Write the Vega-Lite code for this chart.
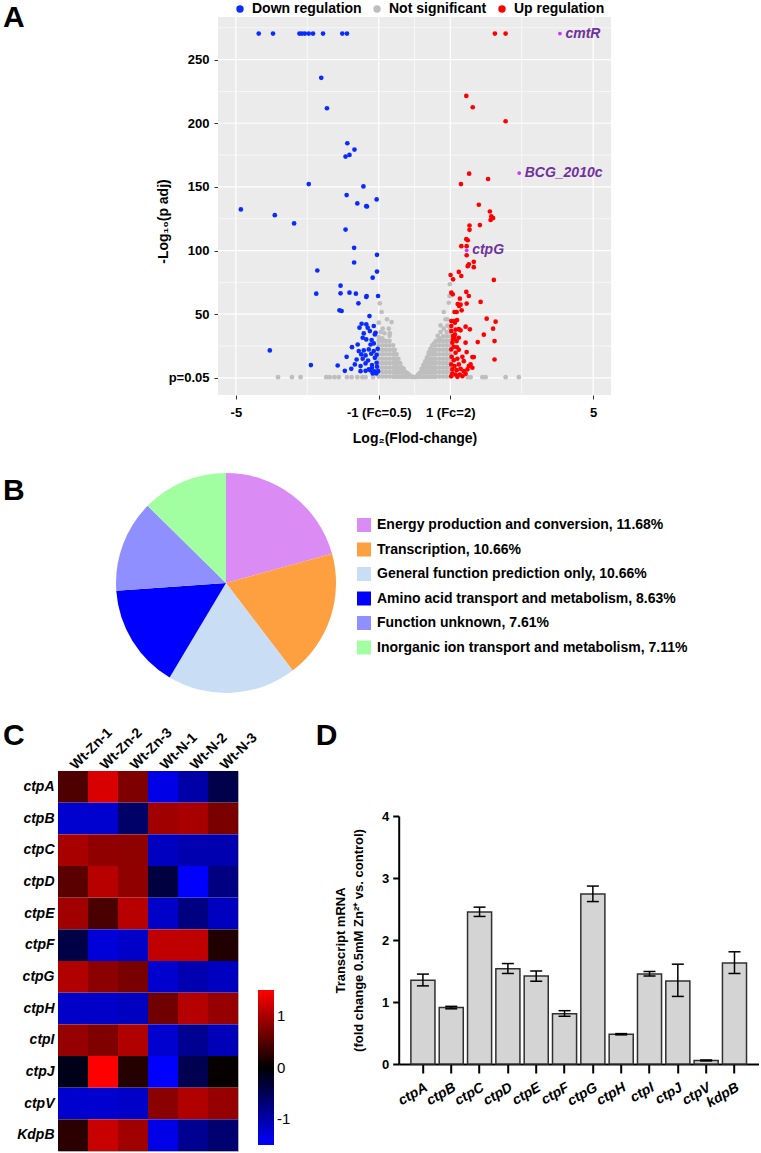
{
  "$schema": "https://vega.github.io/schema/vega-lite/v6.json",
  "padding": {"left": 2, "top": 2, "right": 0, "bottom": 0},
  "autosize": {"type": "pad"},
  "config": {
    "font": "Liberation Sans",
    "view": {"stroke": null},
    "title": {"color": "black", "fontSize": 30, "fontWeight": "bold", "anchor": "start", "frame": "group", "offset": 0},
    "axis": {"labelColor": "black", "titleColor": "black"},
    "legend": {"labelColor": "black"}
  },
  "datasets": {
    "bg": [{"x": -5.5, "x2": 5.5, "y": -13.5, "y2": 283.5}],
    "vmajor": [{"x": -5}, {"x": -1}, {"x": 1}, {"x": 5}],
    "vminor": [{"x": -3}, {"x": 0}, {"x": 3}],
    "hmajor": [{"y": 0}, {"y": 50}, {"y": 100}, {"y": 150}, {"y": 200}, {"y": 250}],
    "hminor": [{"y": 25}, {"y": 75}, {"y": 125}, {"y": 175}, {"y": 225}, {"y": 275}],
    "lab": [
      {"x": 4.07, "y": 270.5, "t": "cmtR"},
      {"x": 2.93, "y": 160.9, "t": "BCG_2010c"},
      {"x": 1.46, "y": 100.2, "t": "ctpG"}
    ],
    "volcano": [
      {"x":-3.82,"y":0.5,"g":"N"},{"x":-3.43,"y":0.5,"g":"N"},{"x":-3.19,"y":0.5,"g":"N"},{"x":-2.47,"y":0.5,"g":"N"},{"x":-2.37,"y":0.5,"g":"N"},{"x":-2.24,"y":0.5,"g":"N"},{"x":-2.12,"y":0.5,"g":"N"},{"x":-1.89,"y":0.5,"g":"N"},{"x":-1.76,"y":0.5,"g":"N"},{"x":-1.6,"y":0.5,"g":"N"},{"x":-1.46,"y":0.5,"g":"N"},{"x":-1.37,"y":0.5,"g":"N"},{"x":-1.16,"y":0.5,"g":"N"},{"x":1.49,"y":0.5,"g":"N"},{"x":1.57,"y":0.5,"g":"N"},{"x":1.9,"y":0.5,"g":"N"},{"x":1.99,"y":0.5,"g":"N"},{"x":2.55,"y":0.5,"g":"N"},{"x":2.92,"y":0.5,"g":"N"},
      {"x":-1,"y":1,"g":"N"},{"x":-1,"y":4.5,"g":"N"},{"x":-1,"y":8,"g":"N"},{"x":-1,"y":11.5,"g":"N"},{"x":-1,"y":15,"g":"N"},{"x":-1,"y":18.5,"g":"N"},{"x":-1,"y":22,"g":"N"},{"x":-1,"y":25.5,"g":"N"},{"x":-1,"y":29,"g":"N"},{"x":-1,"y":32,"g":"N"},
      {"x":-0.9,"y":1,"g":"N"},{"x":-0.9,"y":4.5,"g":"N"},{"x":-0.9,"y":8,"g":"N"},{"x":-0.9,"y":11.5,"g":"N"},{"x":-0.9,"y":15,"g":"N"},{"x":-0.9,"y":18.5,"g":"N"},{"x":-0.9,"y":22,"g":"N"},{"x":-0.9,"y":25.5,"g":"N"},{"x":-0.9,"y":29,"g":"N"},{"x":-0.9,"y":31,"g":"N"},
      {"x":-0.8,"y":1,"g":"N"},{"x":-0.8,"y":4.5,"g":"N"},{"x":-0.8,"y":8,"g":"N"},{"x":-0.8,"y":11.5,"g":"N"},{"x":-0.8,"y":15,"g":"N"},{"x":-0.8,"y":18.5,"g":"N"},{"x":-0.8,"y":22,"g":"N"},{"x":-0.8,"y":25.5,"g":"N"},{"x":-0.8,"y":29,"g":"N"},
      {"x":-0.7,"y":1,"g":"N"},{"x":-0.7,"y":4.5,"g":"N"},{"x":-0.7,"y":8,"g":"N"},{"x":-0.7,"y":11.5,"g":"N"},{"x":-0.7,"y":15,"g":"N"},{"x":-0.7,"y":18.5,"g":"N"},{"x":-0.7,"y":22,"g":"N"},{"x":-0.7,"y":25.5,"g":"N"},{"x":-0.7,"y":29,"g":"N"},{"x":-0.7,"y":33,"g":"N"},
      {"x":-0.6,"y":1,"g":"N"},{"x":-0.6,"y":4.5,"g":"N"},{"x":-0.6,"y":8,"g":"N"},{"x":-0.6,"y":11.5,"g":"N"},{"x":-0.6,"y":15,"g":"N"},{"x":-0.6,"y":18.5,"g":"N"},{"x":-0.6,"y":22,"g":"N"},{"x":-0.6,"y":25.5,"g":"N"},
      {"x":-0.55,"y":1,"g":"N"},{"x":-0.55,"y":4.5,"g":"N"},{"x":-0.55,"y":8,"g":"N"},{"x":-0.55,"y":11.5,"g":"N"},{"x":-0.55,"y":15,"g":"N"},{"x":-0.55,"y":18.5,"g":"N"},{"x":-0.55,"y":22,"g":"N"},
      {"x":-0.5,"y":1,"g":"N"},{"x":-0.5,"y":4.5,"g":"N"},{"x":-0.5,"y":8,"g":"N"},{"x":-0.5,"y":11.5,"g":"N"},{"x":-0.5,"y":15,"g":"N"},{"x":-0.5,"y":18.5,"g":"N"},
      {"x":-0.45,"y":1,"g":"N"},{"x":-0.45,"y":4.5,"g":"N"},{"x":-0.45,"y":8,"g":"N"},{"x":-0.45,"y":11.5,"g":"N"},{"x":-0.45,"y":15,"g":"N"},
      {"x":-0.4,"y":1,"g":"N"},{"x":-0.4,"y":4.5,"g":"N"},{"x":-0.4,"y":8,"g":"N"},{"x":-0.4,"y":11.5,"g":"N"},
      {"x":-0.35,"y":1,"g":"N"},{"x":-0.35,"y":4.5,"g":"N"},{"x":-0.35,"y":8,"g":"N"},
      {"x":-0.3,"y":1,"g":"N"},{"x":-0.3,"y":4.5,"g":"N"},{"x":-0.3,"y":7,"g":"N"},
      {"x":-0.25,"y":1,"g":"N"},{"x":-0.25,"y":4.5,"g":"N"},
      {"x":-0.2,"y":1,"g":"N"},{"x":-0.2,"y":3.5,"g":"N"},
      {"x":-0.15,"y":1,"g":"N"},{"x":-0.15,"y":2.5,"g":"N"},
      {"x":-0.1,"y":1,"g":"N"},{"x":-0.05,"y":0.8,"g":"N"},{"x":0,"y":0.6,"g":"N"},{"x":0.05,"y":0.8,"g":"N"},
      {"x":0.1,"y":1,"g":"N"},{"x":0.1,"y":2.5,"g":"N"},
      {"x":0.15,"y":1,"g":"N"},{"x":0.15,"y":4,"g":"N"},
      {"x":0.2,"y":1,"g":"N"},{"x":0.2,"y":4.5,"g":"N"},{"x":0.2,"y":7,"g":"N"},
      {"x":0.25,"y":1,"g":"N"},{"x":0.25,"y":4.5,"g":"N"},{"x":0.25,"y":8,"g":"N"},{"x":0.25,"y":10,"g":"N"},
      {"x":0.3,"y":1,"g":"N"},{"x":0.3,"y":4.5,"g":"N"},{"x":0.3,"y":8,"g":"N"},{"x":0.3,"y":11.5,"g":"N"},{"x":0.3,"y":13,"g":"N"},
      {"x":0.35,"y":1,"g":"N"},{"x":0.35,"y":4.5,"g":"N"},{"x":0.35,"y":8,"g":"N"},{"x":0.35,"y":11.5,"g":"N"},{"x":0.35,"y":15,"g":"N"},{"x":0.35,"y":16,"g":"N"},
      {"x":0.4,"y":1,"g":"N"},{"x":0.4,"y":4.5,"g":"N"},{"x":0.4,"y":8,"g":"N"},{"x":0.4,"y":11.5,"g":"N"},{"x":0.4,"y":15,"g":"N"},{"x":0.4,"y":18.5,"g":"N"},{"x":0.4,"y":20,"g":"N"},
      {"x":0.45,"y":1,"g":"N"},{"x":0.45,"y":4.5,"g":"N"},{"x":0.45,"y":8,"g":"N"},{"x":0.45,"y":11.5,"g":"N"},{"x":0.45,"y":15,"g":"N"},{"x":0.45,"y":18.5,"g":"N"},{"x":0.45,"y":22,"g":"N"},{"x":0.45,"y":23,"g":"N"},
      {"x":0.5,"y":1,"g":"N"},{"x":0.5,"y":4.5,"g":"N"},{"x":0.5,"y":8,"g":"N"},{"x":0.5,"y":11.5,"g":"N"},{"x":0.5,"y":15,"g":"N"},{"x":0.5,"y":18.5,"g":"N"},{"x":0.5,"y":22,"g":"N"},{"x":0.5,"y":25.5,"g":"N"},
      {"x":0.55,"y":1,"g":"N"},{"x":0.55,"y":4.5,"g":"N"},{"x":0.55,"y":8,"g":"N"},{"x":0.55,"y":11.5,"g":"N"},{"x":0.55,"y":15,"g":"N"},{"x":0.55,"y":18.5,"g":"N"},{"x":0.55,"y":22,"g":"N"},{"x":0.55,"y":25.5,"g":"N"},{"x":0.55,"y":27,"g":"N"},
      {"x":0.6,"y":1,"g":"N"},{"x":0.6,"y":4.5,"g":"N"},{"x":0.6,"y":8,"g":"N"},{"x":0.6,"y":11.5,"g":"N"},{"x":0.6,"y":15,"g":"N"},{"x":0.6,"y":18.5,"g":"N"},{"x":0.6,"y":22,"g":"N"},{"x":0.6,"y":25.5,"g":"N"},{"x":0.6,"y":29,"g":"N"},
      {"x":0.7,"y":1,"g":"N"},{"x":0.7,"y":4.5,"g":"N"},{"x":0.7,"y":8,"g":"N"},{"x":0.7,"y":11.5,"g":"N"},{"x":0.7,"y":15,"g":"N"},{"x":0.7,"y":18.5,"g":"N"},{"x":0.7,"y":22,"g":"N"},{"x":0.7,"y":25.5,"g":"N"},{"x":0.7,"y":29,"g":"N"},{"x":0.7,"y":31,"g":"N"},
      {"x":0.8,"y":1,"g":"N"},{"x":0.8,"y":4.5,"g":"N"},{"x":0.8,"y":8,"g":"N"},{"x":0.8,"y":11.5,"g":"N"},{"x":0.8,"y":15,"g":"N"},{"x":0.8,"y":18.5,"g":"N"},{"x":0.8,"y":22,"g":"N"},{"x":0.8,"y":25.5,"g":"N"},{"x":0.8,"y":29,"g":"N"},{"x":0.8,"y":32.5,"g":"N"},
      {"x":0.9,"y":1,"g":"N"},{"x":0.9,"y":4.5,"g":"N"},{"x":0.9,"y":8,"g":"N"},{"x":0.9,"y":11.5,"g":"N"},{"x":0.9,"y":15,"g":"N"},{"x":0.9,"y":18.5,"g":"N"},{"x":0.9,"y":22,"g":"N"},{"x":0.9,"y":25.5,"g":"N"},{"x":0.9,"y":29,"g":"N"},{"x":0.9,"y":32.5,"g":"N"},{"x":0.9,"y":36,"g":"N"},
      {"x":1,"y":1,"g":"N"},{"x":1,"y":4.5,"g":"N"},{"x":1,"y":8,"g":"N"},{"x":1,"y":11.5,"g":"N"},{"x":1,"y":15,"g":"N"},{"x":1,"y":18.5,"g":"N"},{"x":1,"y":22,"g":"N"},{"x":1,"y":25.5,"g":"N"},{"x":1,"y":29,"g":"N"},{"x":1,"y":32.5,"g":"N"},{"x":1,"y":36,"g":"N"},{"x":1,"y":39,"g":"N"},
      {"x":-0.97,"y":58.5,"g":"N"},{"x":-0.92,"y":51.7,"g":"N"},{"x":-1,"y":43.3,"g":"N"},{"x":-0.77,"y":46,"g":"N"},{"x":-0.64,"y":43.8,"g":"N"},{"x":-0.89,"y":38.6,"g":"N"},{"x":-0.72,"y":38.6,"g":"N"},{"x":-0.69,"y":35,"g":"N"},{"x":-0.84,"y":35,"g":"N"},{"x":-0.95,"y":36,"g":"N"},
      {"x":0.99,"y":73.5,"g":"N"},{"x":0.98,"y":64.3,"g":"N"},{"x":0.96,"y":59,"g":"N"},{"x":0.82,"y":51.7,"g":"N"},{"x":0.87,"y":46,"g":"N"},{"x":0.92,"y":46,"g":"N"},{"x":0.73,"y":41.2,"g":"N"},{"x":0.82,"y":38.6,"g":"N"},{"x":0.92,"y":41,"g":"N"},{"x":0.73,"y":36,"g":"N"},{"x":0.65,"y":33,"g":"N"},
      {"x":-4.36,"y":270.5,"g":"D"},{"x":-3.96,"y":270.5,"g":"D"},{"x":-3.22,"y":270.5,"g":"D"},{"x":-3.15,"y":270.5,"g":"D"},{"x":-3.07,"y":270.5,"g":"D"},{"x":-2.96,"y":270.5,"g":"D"},{"x":-2.84,"y":270.5,"g":"D"},{"x":-2.56,"y":270.5,"g":"D"},{"x":-2.02,"y":270.5,"g":"D"},{"x":-1.89,"y":270.5,"g":"D"},
      {"x":-2.61,"y":235.7,"g":"D"},{"x":-2.45,"y":211.8,"g":"D"},{"x":-1.88,"y":184.3,"g":"D"},{"x":-1.68,"y":179.3,"g":"D"},{"x":-1.82,"y":175.1,"g":"D"},{"x":-1.93,"y":173.8,"g":"D"},{"x":-2.96,"y":152.2,"g":"D"},{"x":-1.43,"y":150.4,"g":"D"},{"x":-1.9,"y":143.6,"g":"D"},{"x":-1.06,"y":140.2,"g":"D"},{"x":-1.6,"y":137,"g":"D"},{"x":-1.35,"y":134.9,"g":"D"},{"x":-1.33,"y":134.6,"g":"D"},{"x":-4.86,"y":132.3,"g":"D"},{"x":-3.91,"y":127.8,"g":"D"},{"x":-3.37,"y":121.3,"g":"D"},{"x":-1.93,"y":116.5,"g":"D"},{"x":-1.69,"y":102.1,"g":"D"},{"x":-1.05,"y":96.6,"g":"D"},{"x":-1.69,"y":90.6,"g":"D"},{"x":-2.72,"y":84.3,"g":"D"},{"x":-1.05,"y":83.5,"g":"D"},{"x":-1.17,"y":78.7,"g":"D"},{"x":-2.07,"y":72.4,"g":"D"},{"x":-2.75,"y":66.1,"g":"D"},{"x":-2.07,"y":66.4,"g":"D"},{"x":-1.82,"y":66.9,"g":"D"},{"x":-1.64,"y":66.1,"g":"D"},{"x":-1.35,"y":63.5,"g":"D"},{"x":-1.34,"y":64.3,"g":"D"},{"x":-1.02,"y":64.3,"g":"D"},{"x":-1.57,"y":58.5,"g":"D"},{"x":-2.1,"y":53,"g":"D"},{"x":-2.04,"y":52.5,"g":"D"},{"x":-1.26,"y":48.5,"g":"D"},{"x":-4.05,"y":21.5,"g":"D"},{"x":-2.9,"y":10,"g":"D"},{"x":-2.15,"y":9.7,"g":"D"},{"x":-1.95,"y":5.5,"g":"D"},
      {"x":-1.48,"y":42.5,"g":"D"},{"x":-1.35,"y":42,"g":"D"},{"x":-1.54,"y":39.4,"g":"D"},{"x":-1.31,"y":39.4,"g":"D"},{"x":-1.14,"y":40.7,"g":"D"},{"x":-1.09,"y":35.4,"g":"D"},{"x":-1.25,"y":36.7,"g":"D"},{"x":-1.42,"y":34.9,"g":"D"},{"x":-1.11,"y":34.1,"g":"D"},{"x":-1.45,"y":31.5,"g":"D"},{"x":-1.35,"y":30.2,"g":"D"},{"x":-1.2,"y":29.7,"g":"D"},{"x":-1.59,"y":26.2,"g":"D"},{"x":-1.75,"y":24.1,"g":"D"},{"x":-1.23,"y":26.2,"g":"D"},{"x":-1.14,"y":27,"g":"D"},{"x":-1.56,"y":21,"g":"D"},{"x":-1.42,"y":21.5,"g":"D"},{"x":-1.28,"y":22.3,"g":"D"},{"x":-1.14,"y":21,"g":"D"},{"x":-1.03,"y":22.8,"g":"D"},{"x":-1.49,"y":18.4,"g":"D"},{"x":-1.37,"y":17.6,"g":"D"},{"x":-1.21,"y":18.9,"g":"D"},{"x":-1.06,"y":18.1,"g":"D"},{"x":-1.9,"y":16.5,"g":"D"},{"x":-1.62,"y":14.4,"g":"D"},{"x":-1.45,"y":15,"g":"D"},{"x":-1.3,"y":13.6,"g":"D"},{"x":-1.11,"y":15.7,"g":"D"},{"x":-1.67,"y":10.5,"g":"D"},{"x":-1.51,"y":9.2,"g":"D"},{"x":-1.37,"y":11.3,"g":"D"},{"x":-1.19,"y":10,"g":"D"},{"x":-1.06,"y":11.8,"g":"D"},{"x":-1.77,"y":7.1,"g":"D"},{"x":-1.51,"y":5.2,"g":"D"},{"x":-1.37,"y":5.5,"g":"D"},{"x":-1.23,"y":5.8,"g":"D"},{"x":-1.12,"y":5,"g":"D"},{"x":-1.02,"y":5.2,"g":"D"},{"x":-1.19,"y":7.9,"g":"D"},{"x":-1.05,"y":8.7,"g":"D"},{"x":-1.07,"y":3.4,"g":"D"},{"x":-1.17,"y":3.4,"g":"D"},{"x":-1.28,"y":6.6,"g":"D"},
      {"x":2.25,"y":270.5,"g":"U"},{"x":2.55,"y":270.5,"g":"U"},{"x":1.45,"y":221.5,"g":"U"},{"x":1.63,"y":212.6,"g":"U"},{"x":2.55,"y":201.6,"g":"U"},{"x":1.53,"y":160.4,"g":"U"},{"x":2.06,"y":156.2,"g":"U"},{"x":1.3,"y":152.2,"g":"U"},{"x":1.8,"y":136,"g":"U"},{"x":2.11,"y":130.7,"g":"U"},{"x":2.15,"y":126.8,"g":"U"},{"x":2.2,"y":125.5,"g":"U"},{"x":2.13,"y":124,"g":"U"},{"x":1.83,"y":120,"g":"U"},{"x":1.54,"y":119.7,"g":"U"},{"x":1.54,"y":116.3,"g":"U"},{"x":1.45,"y":108.9,"g":"U"},{"x":1.49,"y":108.1,"g":"U"},{"x":1.31,"y":103.4,"g":"U"},{"x":1.46,"y":103.4,"g":"U"},{"x":1.46,"y":96.3,"g":"U"},{"x":1.52,"y":89.2,"g":"U"},{"x":1.49,"y":87.7,"g":"U"},{"x":1.66,"y":91.1,"g":"U"},{"x":1.66,"y":86.9,"g":"U"},{"x":2.22,"y":76.9,"g":"U"},{"x":1.01,"y":80.8,"g":"U"},{"x":1.24,"y":83.2,"g":"U"},{"x":1.31,"y":80,"g":"U"},{"x":1.08,"y":77.4,"g":"U"},{"x":1.03,"y":66.9,"g":"U"},{"x":1.07,"y":65.6,"g":"U"},{"x":1.45,"y":67.5,"g":"U"},{"x":1.27,"y":62.2,"g":"U"},{"x":1.52,"y":64.3,"g":"U"},{"x":1.85,"y":59.6,"g":"U"},{"x":1.21,"y":58,"g":"U"},{"x":1.29,"y":57.5,"g":"U"},{"x":1.25,"y":56.5,"g":"U"},{"x":1.46,"y":58.3,"g":"U"},{"x":1.12,"y":51.7,"g":"U"},{"x":1.18,"y":51.7,"g":"U"},{"x":1.32,"y":53,"g":"U"},{"x":2.02,"y":46.5,"g":"U"},{"x":2.27,"y":44.1,"g":"U"},{"x":1.03,"y":44.6,"g":"U"},{"x":1.1,"y":44.6,"g":"U"},{"x":1.19,"y":45.4,"g":"U"},{"x":1.24,"y":38.2,"g":"U"},{"x":1.29,"y":37.3,"g":"U"},{"x":1.15,"y":37.8,"g":"U"},{"x":1.43,"y":40.2,"g":"U"},{"x":1.55,"y":38.1,"g":"U"},{"x":2.2,"y":38.6,"g":"U"},{"x":1.94,"y":33.9,"g":"U"},{"x":1.77,"y":28.1,"g":"U"},{"x":1.43,"y":27.6,"g":"U"},{"x":2.24,"y":28.9,"g":"U"},{"x":1.08,"y":32.8,"g":"U"},{"x":1.12,"y":31.5,"g":"U"},{"x":1.06,"y":27.6,"g":"U"},{"x":1.1,"y":24.4,"g":"U"},{"x":1.19,"y":24,"g":"U"},{"x":1.24,"y":22,"g":"U"},{"x":1.46,"y":20.2,"g":"U"},{"x":1.62,"y":16.3,"g":"U"},{"x":1.66,"y":16.3,"g":"U"},{"x":2.24,"y":14.4,"g":"U"},
      {"x":1.04,"y":16.5,"g":"U"},{"x":1.1,"y":13.9,"g":"U"},{"x":1.2,"y":15,"g":"U"},{"x":1.03,"y":10.5,"g":"U"},{"x":1.12,"y":9.2,"g":"U"},{"x":1.24,"y":10.5,"g":"U"},{"x":1.06,"y":6.6,"g":"U"},{"x":1.18,"y":6,"g":"U"},{"x":1.29,"y":7.1,"g":"U"},{"x":1.38,"y":5.2,"g":"U"},{"x":1.06,"y":3.4,"g":"U"},{"x":1.15,"y":2.6,"g":"U"},{"x":1.27,"y":2.6,"g":"U"},{"x":1.43,"y":3.1,"g":"U"},{"x":1.03,"y":1.3,"g":"U"},{"x":1.2,"y":0.8,"g":"U"},{"x":1.34,"y":1.3,"g":"U"},{"x":1.48,"y":6.6,"g":"U"},{"x":1.57,"y":10.5,"g":"U"},{"x":1.34,"y":16.5,"g":"U"},{"x":1.38,"y":13.1,"g":"U"},{"x":1.52,"y":9.2,"g":"U"},{"x":1.62,"y":7.9,"g":"U"},{"x":1.03,"y":22.3,"g":"U"},{"x":1.15,"y":19.7,"g":"U"},{"x":1.08,"y":30.2,"g":"U"},{"x":1.18,"y":28.9,"g":"U"},{"x":1.03,"y":36.7,"g":"U"},{"x":1.13,"y":34.1,"g":"U"},{"x":1.24,"y":31.5,"g":"U"},{"x":1.03,"y":40.7,"g":"U"},{"x":1.13,"y":43.3,"g":"U"}
    ],
    "pie": [
      {"cat": "Energy production and conversion, 11.68%", "pct": 11.68, "ord": 1},
      {"cat": "Transcription, 10.66%", "pct": 10.66, "ord": 2},
      {"cat": "General function prediction only, 10.66%", "pct": 10.66, "ord": 3},
      {"cat": "Amino acid transport and metabolism, 8.63%", "pct": 8.63, "ord": 4},
      {"cat": "Function unknown, 7.61%", "pct": 7.61, "ord": 5},
      {"cat": "Inorganic ion transport and metabolism, 7.11%", "pct": 7.11, "ord": 6}
    ],
    "heat": [
      {"g":"ctpA","s":"Wt-Zn-1","v":0.46},{"g":"ctpA","s":"Wt-Zn-2","v":1.27},{"g":"ctpA","s":"Wt-Zn-3","v":0.74},{"g":"ctpA","s":"Wt-N-1","v":-1.36},{"g":"ctpA","s":"Wt-N-2","v":-0.99},{"g":"ctpA","s":"Wt-N-3","v":-0.44},
      {"g":"ctpB","s":"Wt-Zn-1","v":-1.22},{"g":"ctpB","s":"Wt-Zn-2","v":-1.22},{"g":"ctpB","s":"Wt-Zn-3","v":-0.62},{"g":"ctpB","s":"Wt-N-1","v":0.94},{"g":"ctpB","s":"Wt-N-2","v":0.99},{"g":"ctpB","s":"Wt-N-3","v":0.72},
      {"g":"ctpC","s":"Wt-Zn-1","v":0.99},{"g":"ctpC","s":"Wt-Zn-2","v":0.85},{"g":"ctpC","s":"Wt-Zn-3","v":0.84},{"g":"ctpC","s":"Wt-N-1","v":-1.13},{"g":"ctpC","s":"Wt-N-2","v":-1.04},{"g":"ctpC","s":"Wt-N-3","v":-1.04},
      {"g":"ctpD","s":"Wt-Zn-1","v":0.53},{"g":"ctpD","s":"Wt-Zn-2","v":1.08},{"g":"ctpD","s":"Wt-Zn-3","v":0.85},{"g":"ctpD","s":"Wt-N-1","v":-0.38},{"g":"ctpD","s":"Wt-N-2","v":-1.5},{"g":"ctpD","s":"Wt-N-3","v":-0.75},
      {"g":"ctpE","s":"Wt-Zn-1","v":0.94},{"g":"ctpE","s":"Wt-Zn-2","v":0.44},{"g":"ctpE","s":"Wt-Zn-3","v":1.08},{"g":"ctpE","s":"Wt-N-1","v":-1.18},{"g":"ctpE","s":"Wt-N-2","v":-0.75},{"g":"ctpE","s":"Wt-N-3","v":-1.13},
      {"g":"ctpF","s":"Wt-Zn-1","v":-0.42},{"g":"ctpF","s":"Wt-Zn-2","v":-1.27},{"g":"ctpF","s":"Wt-Zn-3","v":-1.18},{"g":"ctpF","s":"Wt-N-1","v":1.13},{"g":"ctpF","s":"Wt-N-2","v":1.13},{"g":"ctpF","s":"Wt-N-3","v":0.19},
      {"g":"ctpG","s":"Wt-Zn-1","v":1.04},{"g":"ctpG","s":"Wt-Zn-2","v":0.82},{"g":"ctpG","s":"Wt-Zn-3","v":0.71},{"g":"ctpG","s":"Wt-N-1","v":-1.22},{"g":"ctpG","s":"Wt-N-2","v":-1.04},{"g":"ctpG","s":"Wt-N-3","v":-1.13},
      {"g":"ctpH","s":"Wt-Zn-1","v":-1.18},{"g":"ctpH","s":"Wt-Zn-2","v":-1.18},{"g":"ctpH","s":"Wt-Zn-3","v":-1.13},{"g":"ctpH","s":"Wt-N-1","v":0.66},{"g":"ctpH","s":"Wt-N-2","v":1.06},{"g":"ctpH","s":"Wt-N-3","v":0.89},
      {"g":"ctpI","s":"Wt-Zn-1","v":0.89},{"g":"ctpI","s":"Wt-Zn-2","v":0.75},{"g":"ctpI","s":"Wt-Zn-3","v":1.04},{"g":"ctpI","s":"Wt-N-1","v":-1.22},{"g":"ctpI","s":"Wt-N-2","v":-0.85},{"g":"ctpI","s":"Wt-N-3","v":-1.08},
      {"g":"ctpJ","s":"Wt-Zn-1","v":-0.14},{"g":"ctpJ","s":"Wt-Zn-2","v":1.5},{"g":"ctpJ","s":"Wt-Zn-3","v":0.22},{"g":"ctpJ","s":"Wt-N-1","v":-1.5},{"g":"ctpJ","s":"Wt-N-2","v":-0.47},{"g":"ctpJ","s":"Wt-N-3","v":0.04},
      {"g":"ctpV","s":"Wt-Zn-1","v":-1.22},{"g":"ctpV","s":"Wt-Zn-2","v":-1.22},{"g":"ctpV","s":"Wt-Zn-3","v":-1.18},{"g":"ctpV","s":"Wt-N-1","v":0.82},{"g":"ctpV","s":"Wt-N-2","v":1.04},{"g":"ctpV","s":"Wt-N-3","v":0.89},
      {"g":"KdpB","s":"Wt-Zn-1","v":0.25},{"g":"KdpB","s":"Wt-Zn-2","v":1.18},{"g":"KdpB","s":"Wt-Zn-3","v":0.94},{"g":"KdpB","s":"Wt-N-1","v":-1.36},{"g":"KdpB","s":"Wt-N-2","v":-0.85},{"g":"KdpB","s":"Wt-N-3","v":-0.66}
    ],
    "bars": [
      {"gene":"ctpA","m":1.35,"lo":1.26,"hi":1.45},
      {"gene":"ctpB","m":0.91,"lo":0.89,"hi":0.93},
      {"gene":"ctpC","m":2.45,"lo":2.38,"hi":2.53},
      {"gene":"ctpD","m":1.535,"lo":1.46,"hi":1.62},
      {"gene":"ctpE","m":1.42,"lo":1.335,"hi":1.5},
      {"gene":"ctpF","m":0.81,"lo":0.77,"hi":0.86},
      {"gene":"ctpG","m":2.74,"lo":2.62,"hi":2.87},
      {"gene":"ctpH","m":0.48,"lo":0.47,"hi":0.49},
      {"gene":"ctpI","m":1.45,"lo":1.42,"hi":1.49},
      {"gene":"ctpJ","m":1.34,"lo":1.09,"hi":1.61},
      {"gene":"ctpV","m":0.055,"lo":0.05,"hi":0.065},
      {"gene":"kdpB","m":1.63,"lo":1.46,"hi":1.81}
    ]
  },
  "bounds": "flush",
  "spacing": 78,
  "vconcat": [
    {
      "width": 553,
      "height": 378,
      "title": {"text": "A", "dx": -55, "dy": 35},
      "layer": [
        {
          "data": {"name": "bg"},
          "mark": {"type": "rect", "fill": "#EBEBEB"},
          "encoding": {
            "x": {
              "field": "x", "type": "quantitative",
              "scale": {"domain": [-5.5, 5.5], "nice": false, "zero": false, "range": [160, 553]},
              "axis": {
                "values": [-5, -1, 1, 5],
                "labelExpr": "datum.value == -5 ? '-5' : datum.value == -1 ? '-1 (Fc=0.5)' : datum.value == 1 ? '1 (Fc=2)' : '5'",
                "title": "Log₂(Flod-change)",
                "grid": false, "domain": false, "tickColor": "#333333", "tickSize": 4,
                "labelFontSize": 13, "labelFontWeight": "bold", "labelPadding": 7,
                "titleFontSize": 14, "titleFontWeight": "bold", "titlePadding": 12
              }
            },
            "x2": {"field": "x2"},
            "y": {
              "field": "y", "type": "quantitative",
              "scale": {"domain": [-13.5, 283.5], "nice": false, "zero": false},
              "axis": {
                "values": [0, 50, 100, 150, 200, 250],
                "labelExpr": "datum.value == 0 ? 'p=0.05' : datum.label",
                "title": "-Log₁₀(p adj)", "offset": -160,
                "grid": false, "domain": false, "tickColor": "#333333", "tickSize": 4,
                "labelFontSize": 13, "labelFontWeight": "bold", "labelPadding": 5,
                "titleFontSize": 14, "titleFontWeight": "bold", "titleX": -48, "titleY": 204
              }
            },
            "y2": {"field": "y2"}
          }
        },
        {
          "data": {"name": "vmajor"},
          "mark": {"type": "rule", "color": "white", "strokeWidth": 1.2},
          "encoding": {"x": {"field": "x", "type": "quantitative"}}
        },
        {
          "data": {"name": "vminor"},
          "mark": {"type": "rule", "color": "white", "strokeWidth": 0.6},
          "encoding": {"x": {"field": "x", "type": "quantitative"}}
        },
        {
          "data": {"name": "hmajor"},
          "mark": {"type": "rule", "color": "white", "strokeWidth": 1.2},
          "encoding": {
            "y": {"field": "y", "type": "quantitative"},
            "x": {"datum": -5.5, "type": "quantitative"},
            "x2": {"datum": 5.5}
          }
        },
        {
          "data": {"name": "hminor"},
          "mark": {"type": "rule", "color": "white", "strokeWidth": 0.6},
          "encoding": {
            "y": {"field": "y", "type": "quantitative"},
            "x": {"datum": -5.5, "type": "quantitative"},
            "x2": {"datum": 5.5}
          }
        },
        {
          "data": {"name": "volcano"},
          "mark": {"type": "circle", "size": 22, "opacity": 1},
          "encoding": {
            "x": {"field": "x", "type": "quantitative"},
            "y": {"field": "y", "type": "quantitative"},
            "color": {
              "field": "g", "type": "nominal",
              "scale": {"domain": ["D", "N", "U"], "range": ["#0A2BFF", "#BEBEBE", "#FF0000"]},
              "legend": {
                "orient": "none", "legendX": 175, "legendY": -15, "direction": "horizontal", "title": null,
                "labelExpr": "datum.label == 'D' ? 'Down regulation' : datum.label == 'N' ? 'Not significant' : 'Up regulation'",
                "labelFontSize": 14, "labelFontWeight": "bold", "symbolType": "circle", "symbolSize": 55,
                "columnPadding": 8, "labelOffset": 5, "symbolStrokeWidth": 0, "labelLimit": 300,
                "encode": {"symbols": {"update": {"fill": {"signal": "datum.value === 'D' ? '#2020D0' : datum.value === 'N' ? '#7F7F7F' : '#F46C6C'"}}}}
              }
            }
          }
        },
        {
          "data": {"name": "lab"},
          "mark": {"type": "circle", "size": 14, "opacity": 1, "color": "#CC33FF"},
          "encoding": {
            "x": {"field": "x", "type": "quantitative"},
            "y": {"field": "y", "type": "quantitative"}
          }
        },
        {
          "data": {"name": "lab"},
          "mark": {"type": "text", "align": "left", "baseline": "middle", "dx": 5.5, "fontSize": 14, "fontWeight": "bold", "fontStyle": "italic", "color": "#7030A0"},
          "encoding": {
            "x": {"field": "x", "type": "quantitative"},
            "y": {"field": "y", "type": "quantitative"},
            "text": {"field": "t"}
          }
        }
      ]
    },
    {
      "width": 336,
      "height": 220,
      "title": {"text": "B", "dx": -55, "dy": 37},
      "data": {"name": "pie"},
      "mark": {"type": "arc", "outerRadius": 110},
      "encoding": {
        "theta": {"field": "pct", "type": "quantitative", "stack": true},
        "order": {"field": "ord", "type": "quantitative"},
        "color": {
          "field": "cat", "type": "nominal",
          "scale": {
            "domain": ["Energy production and conversion, 11.68%", "Transcription, 10.66%", "General function prediction only, 10.66%", "Amino acid transport and metabolism, 8.63%", "Function unknown, 7.61%", "Inorganic ion transport and metabolism, 7.11%"],
            "range": ["#DA8CF4", "#FFA040", "#C9DDF5", "#0000FF", "#8F8FFF", "#A1FFA1"]
          },
          "legend": {
            "orient": "none", "legendX": 299, "legendY": 45, "title": null,
            "symbolType": "square", "symbolSize": 196, "symbolStrokeWidth": 0,
            "labelFontSize": 14, "labelFontWeight": "bold", "rowPadding": 10.5, "labelOffset": 6, "labelLimit": 400
          }
        }
      }
    },
    {
      "hconcat": [
        {
          "width": 180,
          "height": 380,
          "title": {"text": "C", "dx": -55, "dy": 30},
          "view": {"stroke": "#B0B0B0", "strokeWidth": 1},
          "data": {"name": "heat"},
          "mark": "rect",
          "encoding": {
            "x": {
              "field": "s", "type": "nominal", "sort": null,
              "scale": {"paddingInner": 0, "paddingOuter": 0},
              "axis": {"orient": "top", "title": null, "labelAngle": -45, "labelAlign": "left", "labelBaseline": "middle", "ticks": false, "domain": false, "labelFontSize": 14, "labelFontWeight": "bold", "labelPadding": 4}
            },
            "y": {
              "field": "g", "type": "nominal", "sort": null,
              "scale": {"paddingInner": 0, "paddingOuter": 0},
              "axis": {"title": null, "ticks": false, "domain": false, "labelFontSize": 14, "labelFontWeight": "bold", "labelFontStyle": "italic", "labelPadding": 4}
            },
            "color": {
              "field": "v", "type": "quantitative",
              "scale": {"domain": [-1.5, 0, 1.5], "range": ["#0000FF", "#000000", "#FF0000"], "interpolate": "rgb"},
              "legend": {
                "orient": "none", "legendX": 200, "legendY": 219, "title": null, "direction": "vertical",
                "values": [-1, 0, 1], "labelExpr": "datum.value == -1 ? '-1' : datum.label",
                "gradientLength": 155, "gradientThickness": 16, "gradientStrokeWidth": 0,
                "labelFontSize": 15, "labelOffset": 3
              }
            }
          }
        },
        {
          "width": 360,
          "height": 293,
          "title": {"text": "D", "dx": -83, "dy": -16},
          "data": {"name": "bars"},
          "layer": [
            {
              "mark": {"type": "bar", "fill": "#D4D4D4", "stroke": "#303030", "strokeWidth": 1.5},
              "encoding": {
                "x": {
                  "field": "gene", "type": "nominal", "sort": null,
                  "scale": {"paddingInner": 0.15, "paddingOuter": 0.43},
                  "axis": {"title": null, "labelAngle": -30, "labelAlign": "right", "labelBaseline": "top", "labelFontSize": 14, "labelFontWeight": "bold", "labelFontStyle": "italic", "domainColor": "black", "domainWidth": 2, "tickColor": "black", "tickWidth": 2, "tickSize": 9, "labelPadding": 7}
                },
                "y": {
                  "field": "m", "type": "quantitative",
                  "scale": {"domain": [0, 4], "nice": false, "range": [293, 45]},
                  "axis": {
                    "values": [0, 1, 2, 3, 4], "format": "d",
                    "title": ["Transcript mRNA", "(fold change 0.5mM Zn²⁺ vs. control)"],
                    "grid": false, "domainColor": "black", "domainWidth": 2, "tickColor": "black", "tickWidth": 2, "tickSize": 6,
                    "labelFontSize": 13, "labelFontWeight": "bold", "labelPadding": 4,
                    "titleFontSize": 13, "titleFontWeight": "bold", "titlePadding": 16, "titleLineHeight": 18
                  }
                }
              }
            },
            {
              "mark": {"type": "rule", "color": "black", "strokeWidth": 1.5},
              "encoding": {
                "x": {"field": "gene", "type": "nominal", "sort": null},
                "y": {"field": "lo", "type": "quantitative"},
                "y2": {"field": "hi"}
              }
            },
            {
              "mark": {"type": "tick", "color": "black", "thickness": 1.5, "size": 12, "opacity": 1},
              "encoding": {
                "x": {"field": "gene", "type": "nominal", "sort": null},
                "y": {"field": "hi", "type": "quantitative"}
              }
            },
            {
              "mark": {"type": "tick", "color": "black", "thickness": 1.5, "size": 12, "opacity": 1},
              "encoding": {
                "x": {"field": "gene", "type": "nominal", "sort": null},
                "y": {"field": "lo", "type": "quantitative"}
              }
            }
          ]
        }
      ],
      "spacing": 160.7,
      "bounds": "flush"
    }
  ]
}
